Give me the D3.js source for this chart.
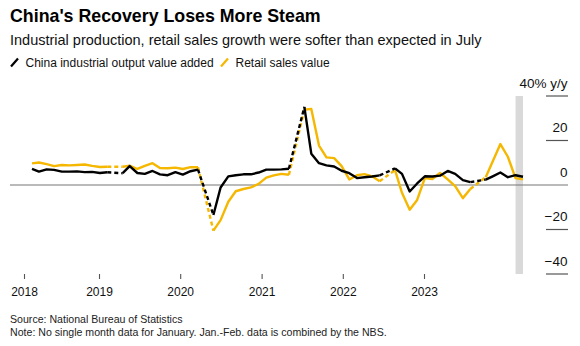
<!DOCTYPE html>
<html>
<head>
<meta charset="utf-8">
<script src="https://cdn.jsdelivr.net/npm/d3@7/dist/d3.min.js"></script>
<style>
  html, body { margin: 0; padding: 0; background: #fff; }
  svg { display: block; font-family: "Liberation Sans", Arial, sans-serif; }
</style>
</head>
<body>
<svg id="chart" width="580" height="346"></svg>
<script>
// Monthly periods (January is folded into the Jan.-Feb. reading)
const periods = [
  "2018-02","2018-03","2018-04","2018-05","2018-06","2018-07","2018-08","2018-09","2018-10","2018-11","2018-12",
  "2019-02","2019-03","2019-04","2019-05","2019-06","2019-07","2019-08","2019-09","2019-10","2019-11","2019-12",
  "2020-02","2020-03","2020-04","2020-05","2020-06","2020-07","2020-08","2020-09","2020-10","2020-11","2020-12",
  "2021-02","2021-03","2021-04","2021-05","2021-06","2021-07","2021-08","2021-09","2021-10","2021-11","2021-12",
  "2022-02","2022-03","2022-04","2022-05","2022-06","2022-07","2022-08","2022-09","2022-10","2022-11","2022-12",
  "2023-02","2023-03","2023-04","2023-05","2023-06","2023-07"
];

// China industrial output value added, % y/y
const industrialOutput = [
  7.2, 6.0, 7.0, 6.8, 6.0, 6.0, 6.1, 5.8, 5.9, 5.4, 5.7,
  5.3, 8.5, 5.4, 5.0, 6.3, 4.8, 4.4, 5.8, 4.7, 6.2, 6.9,
  -13.5, -1.1, 3.9, 4.4, 4.8, 4.8, 5.6, 6.9, 6.9, 7.0, 7.3,
  35.1, 14.1, 9.8, 8.8, 8.3, 6.4, 5.3, 3.1, 3.5, 3.8, 4.3,
  7.5, 5.0, -2.9, 0.7, 3.9, 3.8, 4.2, 6.3, 5.0, 2.2, 1.3,
  2.4, 3.9, 5.6, 3.5, 4.4, 3.7
];

// Retail sales value, % y/y
const retailSales = [
  9.7, 10.1, 9.4, 8.5, 9.0, 8.8, 9.0, 9.2, 8.6, 8.1, 8.2,
  8.2, 8.7, 7.2, 8.6, 9.8, 7.6, 7.5, 7.8, 7.2, 8.0, 8.0,
  -20.5, -15.8, -7.5, -2.8, -1.8, -1.1, 0.5, 3.3, 4.3, 5.0, 4.6,
  33.8, 34.2, 17.7, 12.4, 12.1, 8.5, 2.5, 4.4, 4.9, 3.9, 1.7,
  6.7, -3.5, -11.1, -6.7, 3.1, 2.7, 5.4, 2.5, -0.5, -5.9, -1.8,
  3.5, 10.6, 18.4, 12.7, 3.1, 2.5
];

const yearTicks = [2018, 2019, 2020, 2021, 2022, 2023];
const yTicks = [40, 20, 0, -20, -40];
const highlightPeriod = ["2023-06", "2023-07"];

const seriesNames = ["China industrial output value added", "Retail sales value"];
const colors = { ip: "#000000", retail: "#f5b700" };

const parse = d3.timeParse("%Y-%m");
const dates = periods.map(parse);

const svg = d3.select("#chart");

// Scales
const x = d3.scaleTime()
  .domain([parse("2018-02"), parse("2023-07")])
  .range([32, 523]);

// Year axis positions
const xAxisScale = d3.scaleTime()
  .domain([new Date(2018, 0, 1), new Date(2019, 0, 1), new Date(2023, 0, 1)])
  .range([24, 99, 424]);

const y = d3.scaleLinear().domain([-40, 40]).range([274, 96]);

// Titles
svg.append("text").attr("x", 10).attr("y", 22)
  .attr("font-size", 17.8).attr("font-weight", "bold").attr("fill", "#000")
  .text("China's Recovery Loses More Steam");
svg.append("text").attr("x", 10).attr("y", 45)
  .attr("font-size", 14.5).attr("fill", "#111")
  .text("Industrial production, retail sales growth were softer than expected in July");

// Legend
const legend = svg.append("g");
const legendItems = [
  { name: seriesNames[0], color: colors.ip, x: 10 },
  { name: seriesNames[1], color: colors.retail, x: 220 }
];
legendItems.forEach(it => {
  legend.append("line")
    .attr("x1", it.x + 1).attr("y1", 66.5).attr("x2", it.x + 8).attr("y2", 58.5)
    .attr("stroke", it.color).attr("stroke-width", 2.2);
  legend.append("text").attr("x", it.x + 15.5).attr("y", 67)
    .attr("font-size", 12).attr("fill", "#111").text(it.name);
});

// Highlight band for the latest reading
svg.append("rect")
  .attr("x", x(parse(highlightPeriod[0])))
  .attr("width", x(parse(highlightPeriod[1])) - x(parse(highlightPeriod[0])))
  .attr("y", y(40)).attr("height", y(-40) - y(40))
  .attr("fill", "#d9d9d9");

// Right-side value axis: short rules with labels sitting above them
const yAxis = svg.append("g");
yTicks.forEach(v => {
  if (v !== 0) {
    yAxis.append("line")
      .attr("x1", 546).attr("x2", 568)
      .attr("y1", y(v)).attr("y2", y(v))
      .attr("stroke", "#555").attr("stroke-width", 1.2);
  }
  yAxis.append("text")
    .attr("x", 567.5).attr("y", y(v) - 8.5)
    .attr("text-anchor", "end").attr("font-size", 13.5).attr("fill", "#111")
    .text(v === 40 ? "40% y/y" : d3.format("d")(v));
});

// Zero line
svg.append("line")
  .attr("x1", 10).attr("x2", 568)
  .attr("y1", y(0)).attr("y2", y(0))
  .attr("stroke", "#777").attr("stroke-width", 1.1);

// Year axis
const xAxis = d3.axisBottom(xAxisScale)
  .tickValues(yearTicks.map(yr => new Date(yr, 0, 1)))
  .tickFormat(d3.timeFormat("%Y"))
  .tickSize(5).tickPadding(8);
const gx = svg.append("g").attr("transform", "translate(0,274)").call(xAxis);
gx.select(".domain").remove();
gx.selectAll(".tick line").attr("stroke", "#555").attr("stroke-width", 1.1);
gx.selectAll(".tick text").attr("font-size", 12).attr("fill", "#111")
  .attr("font-family", "Liberation Sans, Arial, sans-serif");

// Series lines: solid within each year, dashed across the combined Jan.-Feb. step
function drawSeries(values, color) {
  const pts = dates.map((d, i) => ({ d, v: values[i] }));
  const line = d3.line().x(p => x(p.d)).y(p => y(p.v));
  const runs = [];
  const dashed = [];
  let cur = [pts[0]];
  for (let i = 1; i < pts.length; i++) {
    if (pts[i].d.getMonth() === 1) {
      runs.push(cur);
      dashed.push([pts[i - 1], pts[i]]);
      cur = [pts[i]];
    } else cur.push(pts[i]);
  }
  runs.push(cur);
  const g = svg.append("g");
  runs.forEach(r => {
    g.append("path").attr("d", line(r))
      .attr("fill", "none").attr("stroke", color).attr("stroke-width", 2.4)
      .attr("stroke-linejoin", "round");
  });
  dashed.forEach(s => {
    g.append("path").attr("d", line(s))
      .attr("fill", "none").attr("stroke", color).attr("stroke-width", 2.4)
      .attr("stroke-dasharray", "4,3");
  });
}
drawSeries(retailSales, colors.retail);
drawSeries(industrialOutput, colors.ip);

// Footer
svg.append("text").attr("x", 10).attr("y", 323)
  .attr("font-size", 10.6).attr("fill", "#222")
  .text("Source: National Bureau of Statistics");
svg.append("text").attr("x", 10).attr("y", 336)
  .attr("font-size", 10.6).attr("fill", "#222")
  .text("Note: No single month data for January. Jan.-Feb. data is combined by the NBS.");
</script>
</body>
</html>
